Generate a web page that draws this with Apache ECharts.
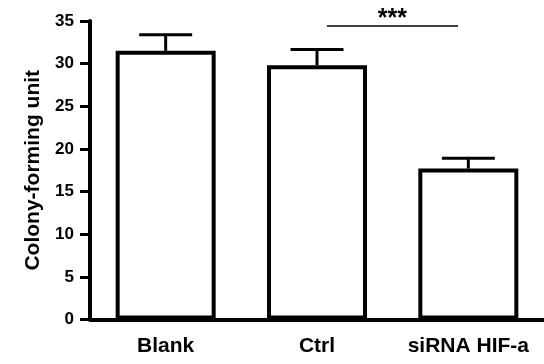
<!DOCTYPE html>
<html>
<head>
<meta charset="utf-8">
<script src="https://cdn.jsdelivr.net/npm/echarts@6/dist/echarts.min.js"></script>
<style>
  html, body { margin: 0; padding: 0; background: #fff; }
  #chart { width: 544px; height: 364px; }
</style>
</head>
<body>
<div id="chart"></div>
<script>
// data
const categories = ["Blank", "Ctrl", "siRNA HIF-a"];
const means = [31.5, 29.8, 17.7];
const errors = [1.9, 1.85, 1.2];
const yMin = 0, yMax = 35, yStep = 5;
// significance bar: from category 1 to category 2, at y value
const sigPairs = [[1, 34.4, 2]];
const sigLabel = "***";

const font = '"Liberation Sans", Arial, sans-serif';
const chart = echarts.init(document.getElementById("chart"));

const errData = means.map((m, i) => [i, m, errors[i]]);

const option = {
  animation: false,
  backgroundColor: "#fff",
  grid: { left: 90, right: 0, top: 21, bottom: 44.5 },
  xAxis: {
    type: "category",
    data: categories,
    axisLine: { lineStyle: { color: "#000", width: 4 } },
    axisTick: { alignWithLabel: true, length: 11, lineStyle: { color: "#000", width: 3 } },
    axisLabel: { interval: 0, hideOverlap: false, color: "#000", fontFamily: font, fontWeight: "bold", fontSize: 21, margin: 16 },
  },
  yAxis: {
    type: "value",
    min: yMin,
    max: yMax,
    interval: yStep,
    name: "Colony-forming unit",
    nameLocation: "middle",
    nameGap: 36,
    nameTextStyle: { color: "#000", fontFamily: font, fontWeight: "bold", fontSize: 21 },
    splitLine: { show: false },
    axisLine: { show: true, lineStyle: { color: "#000", width: 4 } },
    axisTick: { show: true, length: 10, lineStyle: { color: "#000", width: 3 } },
    axisLabel: { color: "#000", fontFamily: font, fontWeight: "bold", fontSize: 17, margin: 16 },
  },
  series: [
    {
      type: "bar",
      data: means,
      barWidth: 100,
      itemStyle: { color: "#fff", borderColor: "#000", borderWidth: 4 },
    },
    {
      type: "custom",
      data: errData,
      z: 3,
      renderItem(params, api) {
        const x = api.value(0);
        const m = api.value(1);
        const e = api.value(2);
        const lo = api.coord([x, m]);
        const hi = api.coord([x, m + e]);
        const half = api.size([1, 0])[0] * 0.175;
        return {
          type: "group",
          children: [
            { type: "line", shape: { x1: lo[0], y1: lo[1], x2: hi[0], y2: hi[1] }, style: { stroke: "#000", lineWidth: 3 } },
            { type: "line", shape: { x1: hi[0] - half, y1: hi[1], x2: hi[0] + half, y2: hi[1] }, style: { stroke: "#000", lineWidth: 3 } },
          ],
        };
      },
    },
    {
      type: "custom",
      data: sigPairs,
      z: 3,
      renderItem(params, api) {
        const a = api.coord([api.value(0), api.value(1)]);
        const b = api.coord([api.value(2), api.value(1)]);
        const band = api.size([1, 0])[0];
        const x1 = a[0] + band * 0.065;
        const x2 = b[0] - band * 0.068;
        return {
          type: "group",
          children: [
            { type: "line", shape: { x1: x1, y1: a[1], x2: x2, y2: a[1] }, style: { stroke: "#000", lineWidth: 1.5 } },
            {
              type: "text",
              style: {
                text: sigLabel, x: (x1 + x2) / 2, y: a[1] - 7,
                align: "center", verticalAlign: "middle",
                fill: "#000", font: "bold 25px " + font,
              },
            },
          ],
        };
      },
    },
  ],
};

chart.setOption(option);
</script>
</body>
</html>
